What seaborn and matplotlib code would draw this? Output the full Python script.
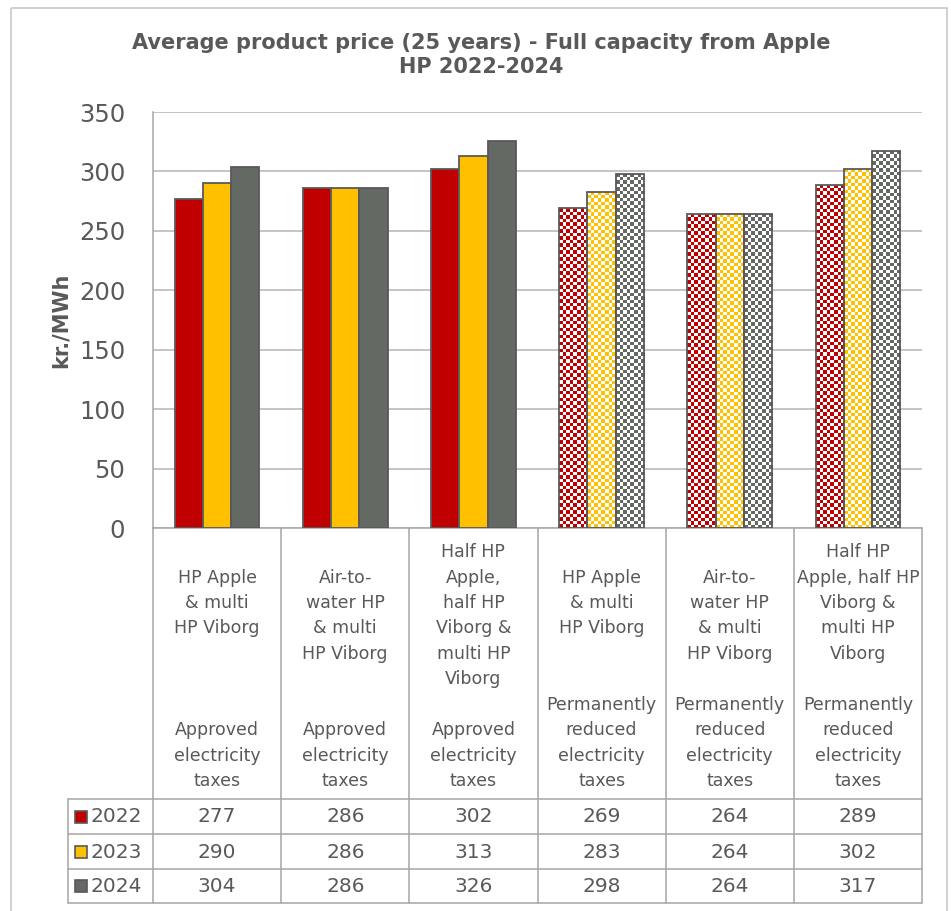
import numpy as np
import pandas as pd
import matplotlib
matplotlib.use("Agg")
import matplotlib.pyplot as plt
import matplotlib.transforms as mtransforms
from matplotlib.patches import Rectangle
import seaborn as sns

# ---------------- data ----------------
categories = [
    "HP Apple\n& multi\nHP Viborg\n\n\n\nApproved\nelectricity\ntaxes",
    "Air-to-\nwater HP\n& multi\nHP Viborg\n\n\nApproved\nelectricity\ntaxes",
    "Half HP\nApple,\nhalf HP\nViborg &\nmulti HP\nViborg\n\nApproved\nelectricity\ntaxes",
    "HP Apple\n& multi\nHP Viborg\n\n\nPermanently\nreduced\nelectricity\ntaxes",
    "Air-to-\nwater HP\n& multi\nHP Viborg\n\nPermanently\nreduced\nelectricity\ntaxes",
    "Half HP\nApple, half HP\nViborg &\nmulti HP\nViborg\n\nPermanently\nreduced\nelectricity\ntaxes",
]
years = ["2022", "2023", "2024"]
values_2022 = [277, 286, 302, 269, 264, 289]
values_2023 = [290, 286, 313, 283, 264, 302]
values_2024 = [304, 286, 326, 298, 264, 317]
y_ticks = [0, 50, 100, 150, 200, 250, 300, 350]
title = "Average product price (25 years) - Full capacity from Apple\nHP 2022-2024"
y_label = "kr./MWh"

series = {"2022": values_2022, "2023": values_2023, "2024": values_2024}
df = pd.DataFrame(
    [(c, y, v) for y in years for c, v in zip(categories, series[y])],
    columns=["category", "year", "value"],
)

# ---------------- style ----------------
sns.set_style("white")
plt.rcParams["font.family"] = ["DejaVu Sans"]
TXT = "#595959"
GRID = "#B4B4B4"
TABLE = "#A6A6A6"
palette = {"2022": "#C00000", "2023": "#FFC000", "2024": "#656964"}
checkered = {3, 4, 5}

W, H = 951, 911
fig = plt.figure(figsize=(W / 100, H / 100), dpi=100)
fig.patch.set_facecolor("white")

L, R, T, B = 153, 922, 112, 528
ax = fig.add_axes([L / W, 1 - B / H, (R - L) / W, (B - T) / H])
# overlay axes in pixel coordinates for table / decorations
tax = fig.add_axes([0, 0, 1, 1], zorder=-1)
tax.set_xlim(0, W)
tax.set_ylim(H, 0)
tax.axis("off")

sns.barplot(
    data=df, x="category", y="value", hue="year", order=categories,
    hue_order=years, palette=palette, width=0.66, saturation=1,
    edgecolor="#595959", linewidth=1.3, legend=False, ax=ax, zorder=3,
)

ax.set_xlim(-0.5, len(categories) - 0.5)
ax.set_ylim(0, 350)
ax.set_yticks(y_ticks)
ax.set_yticklabels([str(t) for t in y_ticks], fontsize=17.5, color=TXT)
ax.tick_params(axis="y", length=0, pad=20)
ax.set_xticks([])
ax.set_xlabel("")
ax.set_ylabel(y_label, fontsize=15, fontweight="bold", color=TXT, labelpad=6)
ax.grid(axis="y", color=GRID, linewidth=1.1, zorder=0)
ax.set_axisbelow(True)
for s in ["top", "right"]:
    ax.spines[s].set_visible(False)
for s in ["left", "bottom"]:
    ax.spines[s].set_color(TABLE)
    ax.spines[s].set_linewidth(1.1)

# checkered fill for the "permanently reduced" groups
px_x = (R - L) / len(categories)
px_y = (B - T) / 350.0
cell = 3.5
for p in list(ax.patches):
    x0, w, h = p.get_x(), p.get_width(), p.get_height()
    ci = int(round(x0 + w / 2))
    if ci not in checkered or h <= 0:
        continue
    col = np.array(p.get_facecolor()[:3])
    nx = max(1, int(round(w * px_x / cell)))
    ny = max(1, int(round(h * px_y / cell)))
    chk = np.indices((ny, nx)).sum(axis=0) % 2
    img = np.where(chk[..., None] == 0, col, np.ones(3))
    im = ax.imshow(img, extent=(x0, x0 + w, 0, h), origin="lower",
                   aspect="auto", interpolation="nearest", zorder=2.5)
    im.set_clip_path(p)
    p.set_facecolor("none")
    p.set_zorder(3)
ax.set_xlim(-0.5, len(categories) - 0.5)
ax.set_ylim(0, 350)
ax.set_aspect("auto")

# ---------------- data table ----------------
blend = mtransforms.blended_transform_factory(ax.transData, tax.transData)
row_lines = [799, 834, 869, 903]
for k in range(len(categories) + 1):
    tax.plot([k - 0.5, k - 0.5], [B, row_lines[-1]], color=TABLE, lw=1.1,
             transform=blend, clip_on=False)
tax.plot([68, 68], [row_lines[0], row_lines[-1]], color=TABLE, lw=1.1)
for yl in row_lines:
    tax.plot([68, R], [yl, yl], color=TABLE, lw=1.1)

for k, lab in enumerate(categories):
    tax.text(k, 790, lab, transform=blend, ha="center", va="bottom",
             multialignment="center", fontsize=12.5, color=TXT, linespacing=1.53)

row_centers = [(row_lines[i] + row_lines[i + 1]) / 2 for i in range(3)]
for yr, yc in zip(years, row_centers):
    tax.add_patch(Rectangle((75, yc - 6), 12, 12, facecolor=palette[yr],
                            edgecolor="#595959", lw=1.2))
    tax.text(90, yc + 0.5, yr, ha="left", va="center", fontsize=14.5, color=TXT)
    for k, v in enumerate(series[yr]):
        tax.text(k, yc + 0.5, str(v), transform=blend, ha="center",
                 va="center", fontsize=14.5, color=TXT)

# title and outer frame
fig.text(481 / W, 1 - 55 / H, title, ha="center", va="center",
         fontsize=15, fontweight="bold", color=TXT, linespacing=1.2)
tax.add_patch(Rectangle((11, 8), 936, 910, facecolor="none",
                        edgecolor="#C8C8C8", lw=1.2, clip_on=False))

fig.savefig("out.png", dpi=100)
